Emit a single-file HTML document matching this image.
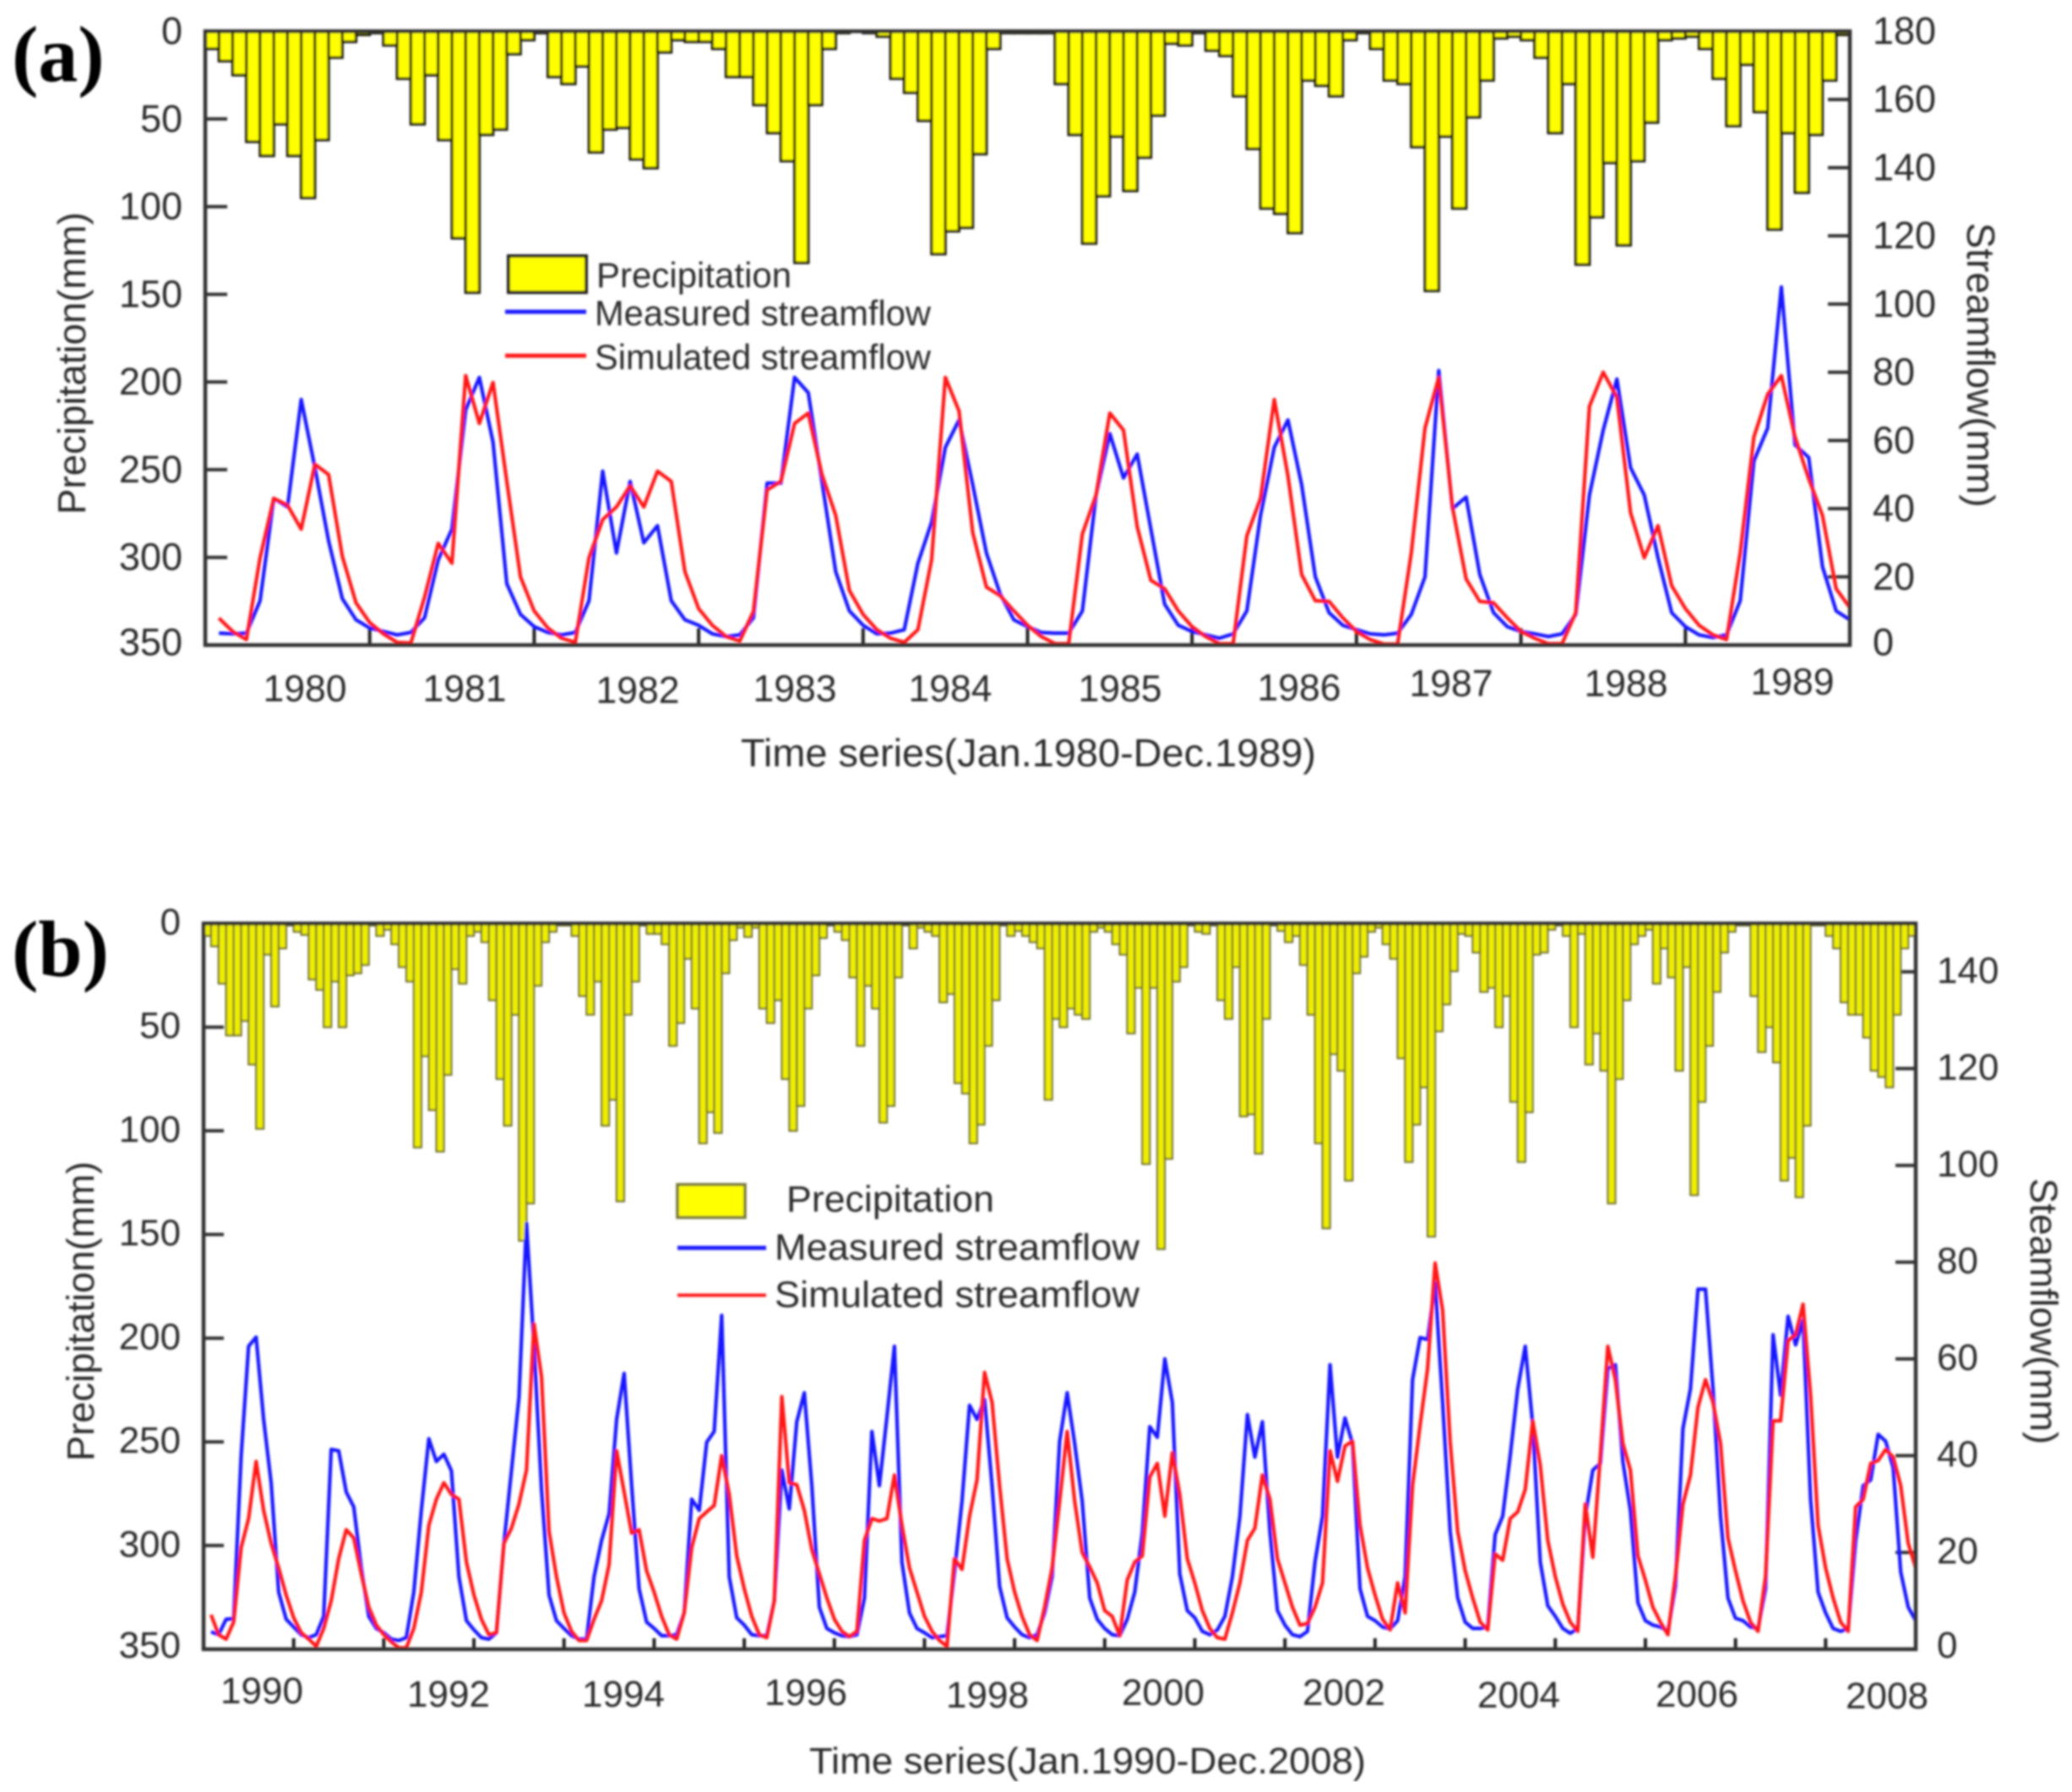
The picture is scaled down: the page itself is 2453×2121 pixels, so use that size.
<!DOCTYPE html>
<html lang="en">
<head>
<meta charset="utf-8">
<title>Precipitation and streamflow time series</title>
<style>
html,body{margin:0;padding:0;background:#fff;}
svg{display:block;}
text{font-family:"Liberation Sans",sans-serif;fill:#2a2a2a;}
.panel-label{font-family:"Liberation Serif",serif;font-weight:bold;font-size:94px;fill:#000;}
</style>
</head>
<body>
<svg id="chart" xmlns="http://www.w3.org/2000/svg" width="2453" height="2121" viewBox="0 0 2453 2121">
<defs><filter id="soft" x="0" y="0" width="100%" height="100%" filterUnits="objectBoundingBox"><feGaussianBlur stdDeviation="1.2"/></filter></defs>
<rect x="0" y="0" width="2453" height="2121" fill="#fff"/>
<g id="root" filter="url(#soft)">
<g id="panelA"></g>
<g id="panelB"></g>

<text class="panel-label" x="14" y="96">(a)</text>
<text class="panel-label" x="14" y="1155">(b)</text>

<g font-size="44.5" text-anchor="middle">
<text x="361" y="830" text-anchor="middle" font-size="44.5">1980</text>
<text x="550" y="830" text-anchor="middle" font-size="44.5">1981</text>
<text x="755" y="832" text-anchor="middle" font-size="44.5">1982</text>
<text x="941" y="830" text-anchor="middle" font-size="44.5">1983</text>
<text x="1125" y="830" text-anchor="middle" font-size="44.5">1984</text>
<text x="1326" y="830" text-anchor="middle" font-size="44.5">1985</text>
<text x="1538" y="829" text-anchor="middle" font-size="44.5">1986</text>
<text x="1718" y="824" text-anchor="middle" font-size="44.5">1987</text>
<text x="1925" y="824" text-anchor="middle" font-size="44.5">1988</text>
<text x="2122" y="822" text-anchor="middle" font-size="44.5">1989</text>
</g>
<text x="877" y="907" font-size="46" textLength="681" lengthAdjust="spacingAndGlyphs">Time series(Jan.1980-Dec.1989)</text>
<text transform="translate(101 430) rotate(-90)" text-anchor="middle" font-size="46" textLength="358" lengthAdjust="spacingAndGlyphs">Precipitation(mm)</text>
<text transform="translate(2329 432) rotate(90)" text-anchor="middle" font-size="46" textLength="337" lengthAdjust="spacingAndGlyphs">Streamflow(mm)</text>

<g>
<rect x="602" y="303" width="92" height="43" fill="#ffff00" stroke="#222" stroke-width="4"/>
<text x="706" y="340" font-size="42">Precipitation</text>
<line x1="598" y1="369" x2="694" y2="369" stroke="#1a1aff" stroke-width="5"/>
<text x="704" y="385" font-size="42" textLength="398" lengthAdjust="spacingAndGlyphs">Measured streamflow</text>
<line x1="598" y1="421" x2="694" y2="421" stroke="#ff1f1f" stroke-width="5"/>
<text x="704" y="437" font-size="42" textLength="398" lengthAdjust="spacingAndGlyphs">Simulated streamflow</text>
</g>

<g>
<text x="310" y="2016" text-anchor="middle" font-size="44">1990</text>
<text x="531" y="2020" text-anchor="middle" font-size="44">1992</text>
<text x="738" y="2020" text-anchor="middle" font-size="44">1994</text>
<text x="954" y="2018" text-anchor="middle" font-size="44">1996</text>
<text x="1169" y="2021" text-anchor="middle" font-size="44">1998</text>
<text x="1377" y="2018" text-anchor="middle" font-size="44">2000</text>
<text x="1591" y="2018" text-anchor="middle" font-size="44">2002</text>
<text x="1798" y="2021" text-anchor="middle" font-size="44">2004</text>
<text x="2009" y="2020" text-anchor="middle" font-size="44">2006</text>
<text x="2234" y="2022" text-anchor="middle" font-size="44">2008</text>
</g>
<text x="958" y="2099" font-size="44" textLength="659" lengthAdjust="spacingAndGlyphs">Time series(Jan.1990-Dec.2008)</text>
<text transform="translate(111 1552) rotate(-90)" text-anchor="middle" font-size="45" textLength="355" lengthAdjust="spacingAndGlyphs">Precipitation(mm)</text>
<text transform="translate(2404 1552) rotate(90)" text-anchor="middle" font-size="45" textLength="315" lengthAdjust="spacingAndGlyphs">Steamflow(mm)</text>

<g>
<rect x="802" y="1402" width="80" height="39" fill="#ffff00" stroke="#77773a" stroke-width="3.5"/>
<text x="931" y="1434" font-size="44" textLength="246" lengthAdjust="spacingAndGlyphs">Precipitation</text>
<line x1="802" y1="1477" x2="907" y2="1477" stroke="#1a1aff" stroke-width="5"/>
<text x="917" y="1491" font-size="44" textLength="432" lengthAdjust="spacingAndGlyphs">Measured streamflow</text>
<line x1="802" y1="1533" x2="907" y2="1533" stroke="#ff1f1f" stroke-width="4"/>
<text x="917" y="1547" font-size="44" textLength="432" lengthAdjust="spacingAndGlyphs">Simulated streamflow</text>
</g>
</g>
</svg>
<script>
// Panel (a): Jan 1980 - Dec 1989
const yearsA = [1980,1981,1982,1983,1984,1985,1986,1987,1988,1989];
const precipA = [
10,17,25,63,71,53,71,95,62,15,6,2,
1,8,27,53,25,62,118,149,59,56,13,5,
1,26,30,20,69,56,55,73,78,12,5,6,
6,10,26,26,42,58,74,132,42,10,1,0,
1,3,27,35,51,127,114,112,70,10,1,1,
1,1,30,59,121,94,60,91,72,48,7,8,
1,11,14,37,67,101,104,115,28,31,37,5,
1,10,28,30,66,148,60,101,49,28,4,3,
5,15,58,30,133,106,75,122,74,52,5,4,
3,10,27,54,19,46,113,58,92,59,28,2];
const measuredA = [
3.5,3.3,3.5,13,43,40.5,72,52,30.6,13.6,7.4,5,
4,3,3.7,8,25,34,69,78.5,59.5,18,9,5.4,
3.7,3,3.7,13,51,27,48,30,35,13,7.4,5.8,
3.3,2.5,3,8,47.5,47.5,78.5,74,48,21.5,10,5.8,
3.3,3.5,4.5,24,36,58,66,47,27,15,7.4,5.4,
3.7,3.5,3.5,10,44,62,49,56,34,12,5.8,4,
3,2,3.3,10,38,58,66,47,20,9.5,5.8,4.5,
3.3,3,3.5,9,20,80.5,40,43.4,20.7,9.5,5.4,4,
3.3,2.5,3.3,9,44,63,78,52,44,25.6,9.5,5.4,
3,2.2,3,13,54,63.6,105,58.7,55,23,10,7.4];
const simulatedA = [
7.9,4,1.6,25.6,43,41,34,53,50,26,12.4,6.6,
3.3,0.8,0.6,14,29.8,24,79,65,77,48,20,10,
5,2,0.8,25.6,36.8,40.5,46.7,40.5,51,48,21.5,10.7,
5.8,2.5,1.2,9.9,45.5,48,65,68,50,38,16,9,
4.5,2,0.8,4.5,25,78.5,68.6,33,17,14.5,10,5.8,
2.5,0.4,0.4,32.6,44,68,63,34.7,19,16.5,10,5.4,
2.5,0.4,0.4,32,43,72,49.6,20.7,13,12.8,8,4,
1.6,0.3,0.3,27,63.6,78.5,40.5,19.4,12.8,12.4,8,4,
2,0.4,0.4,9.5,70,80,72.7,38.8,25.6,35,17.4,10.7,
5.8,3,1.6,27,61,73.5,79,61,48.8,38,16.5,11];

// Panel (b): Jan 1990 - Dec 2008
const yearsB = [1990,1991,1992,1993,1994,1995,1996,1997,1998,1999,2000,2001,2002,2003,2004,2005,2006,2007,2008];
const precipB = [
6,11,29,54,54,47,68,99,15,40,12,1,
4,5.5,27,32,50,28,50,25,24,20,1,6,
3,10,21,28,108,64,90,110,73,22,29,6,
4,9,37,75,97.5,44,153,135,30,9,4,1,
1,6,35,44,28,97.5,85,134,44,28,1,5,
5,10,59,48,17,41,106,91,101,24,8,2,
6.5,2,41,48,37,75,100,88,41,25,7,1,
4,8,26,59,30,41,96,88,26,1,12,2,
4,6,38,34,77,82,106,97,59,37,1,6,
3.6,6,9,12,85,46,50,41,44,46,4,2,
4,10,15,53,31,116,31,157,113.5,28,21,1,
4,5,1,37,46,21,93,92,111,46,1,3.6,
9,6,20,44,106,147,63,71,124,24,16,4,
2,10,17,65,115,97,79,151,52,39,23,5,
6,14,33,31,50,35,86,115,91,15,14,3,
1,6,50,5,68,53,71,135,75,37,10,6,
3,29,12,26,71,21,131,86,59,33,14,4,
1,1,35,62,50,67,124,113,132,97.5,1,1,
6,12,38,44,44,55,71,74,79,44,12,6];
const measuredB = [
3.6,3,6.2,6.3,40,62.6,64.5,47.5,34.4,11.8,6.2,4.6,
3,2.4,3,6.8,41.3,41,32.5,29.4,16.8,6.8,4.3,3.4,
2.1,1.8,2.4,11.8,28.7,43.5,38.8,40.3,36.9,15,5.9,4,
2.4,2.1,3.4,21.9,36.9,52,88,62.6,33,11.2,5.9,4.3,
2.8,2.1,2.1,15,22.5,28,47.5,57,33.8,12.5,5.6,4.3,
2.8,2.8,3,7.5,31,28.7,42.8,45,69,15,6.5,5,
3,2.8,2.8,10,37,29,47,53,33.8,8.7,4.3,3.4,
2.8,2.6,3,10.6,45,33.8,48,62.6,18,7.5,4.3,3.4,
2.4,2.6,2.8,16,30.6,50.4,47.5,51.6,33.8,13,6.5,4.6,
3,2.4,3,7.5,15,43,53,42.5,30.6,10.6,6.2,4.3,
3,2.8,6.2,11.8,24,46,43.8,60,51,15.6,8,6.5,
3.7,3,4,6.8,15,27.5,48.5,39.7,47,24.4,8,5,
3,2.6,3.7,18,27.5,58.8,39.7,47.8,42.5,12.5,6.8,5.9,
4.6,4.2,5.9,15,55.7,64.4,64,75.7,51,24.4,10.6,5.6,
4.3,4.3,4.6,23.7,27.5,40,53.8,62.6,46.3,18,9,6.8,
4.3,3.3,4.3,27.5,37,38.4,58,58.8,38.8,28.7,9.6,5.9,
5,4.6,3.7,13,45.6,53.8,74.4,74.4,53.8,27.5,10.6,6.4,
5.9,4.6,4.3,12.5,65,52.5,68.8,62.9,68,31,11.8,7.5,
4.3,3.7,4.3,22.5,33.8,35,44.4,43,37.5,16,8.7,5.9];
const simulatedB = [
7.1,3,2.1,5.6,21,27,38.8,28.7,21.9,16.8,11.2,6.5,
3.4,2.1,0.6,4.3,10,18.7,24.7,23,15.6,8.7,5,3,
1.5,0.3,0.3,4.3,11.8,25.6,31,34.4,32,31,18,11.2,
6.2,3,3.4,21.9,25,30,37,67.2,56.3,24.4,15,7.5,
3.7,1.8,1.8,6.2,10,17.5,41,32.5,24,24.7,16.2,11.8,
6.8,3,2.1,7.5,21,27,28.4,29.7,40,32,19.3,12.5,
6.8,3,2.4,10,52.2,34.4,34,28.7,20.6,15.6,10.6,6.2,
3.7,2.6,3.7,22.5,27,26.5,27,36,25.6,16.8,11.8,6.8,
3.7,1.8,0.6,18.7,16.5,27.5,35,57.2,51,33.8,18.7,11.8,
6.8,3,1.8,8.7,16.8,30.6,45,30.6,20,17,13.7,8,
6.8,2.8,14.3,18,19.3,35.6,38.4,27.5,40.6,32,18.7,13.7,
8,4.3,2.4,2.1,7.5,13.7,22.5,25,36,31,18.7,13.7,
8.7,5,5.3,8.7,13.7,41,34.7,42,43,25.6,16.8,11.2,
6.2,4,13.7,7.5,33.8,46.3,58,79.8,70,43,24.4,16.2,
10.6,5.6,4,19.7,18.4,27,28.4,33,47.2,38,22.5,15,
9.3,5.6,3.7,30,19,40,62.6,55.7,42.5,37,19.3,14.3,
8.7,5.6,3,15,30,36,50,55.7,51,42.5,23,16.2,
10,5.6,3.7,15,47.2,47.2,63.8,65,71.3,52.5,25.6,16.8,
10.6,5.6,3.7,29.4,31,38.4,39,41.3,39.7,33.8,21.9,16.8];

// Axis tick values
const precipTicks = [0,50,100,150,200,250,300,350];
const flowTicksA = [0,20,40,60,80,100,120,140,160,180];
const flowTicksB = [0,20,40,60,80,100,120,140];

const NS = 'http://www.w3.org/2000/svg';
function mk(parent, tag, attrs) {
  const el = document.createElementNS(NS, tag);
  for (const k in attrs) el.setAttribute(k, attrs[k]);
  parent.appendChild(el);
  return el;
}

function drawPanel(cfg) {
  const g = document.getElementById(cfg.id);
  const w = (cfg.right - cfg.left) / cfg.precip.length;
  const xEdge = i => cfg.left + i * w;
  const xPoint = i => cfg.left + (i + 1) * w;
  const yPrecip = v => cfg.top + v * (cfg.bottom - cfg.top) / cfg.precipMax;
  const yFlow = v => cfg.bottom - v * (cfg.bottom - cfg.top) / cfg.flowMax;
  const lift = y => (Math.abs(y - cfg.bottom) < 1 ? 3 : 0);

  // left-axis ticks and labels
  precipTicks.forEach(v => {
    const t = mk(g, 'line', {x1: cfg.left, x2: cfg.left + cfg.tickLen, y1: yPrecip(v), y2: yPrecip(v), stroke: '#333', 'stroke-width': 4});
    
    
    const l = mk(g, 'text', {x: cfg.leftLabelX, y: yPrecip(v) + cfg.labelDy - lift(yPrecip(v)), 'text-anchor': 'end', 'font-size': cfg.font});
    
    
    l.textContent = v;
  });
  // right-axis ticks and labels
  cfg.flowTicks.forEach(v => {
    const t = mk(g, 'line', {x1: cfg.right - cfg.tickLen, x2: cfg.right, y1: yFlow(v), y2: yFlow(v), stroke: '#333', 'stroke-width': 4});
    
    
    const l = mk(g, 'text', {x: cfg.rightLabelX, y: yFlow(v) + cfg.labelDy - lift(yFlow(v)), 'font-size': cfg.font});
    
    
    l.textContent = v;
  });
  // year ticks
  cfg.years.forEach((yr, k) => {
    if (k === 0) return;
    const x = xEdge(k * 12);
    const t = mk(g, 'line', {x1: x, x2: x, y1: cfg.bottom - cfg.xTickLen, y2: cfg.bottom, stroke: '#222', 'stroke-width': 4});
    
    
  });
  // precipitation bars
  cfg.precip.forEach((v, i) => {
    const b = mk(g, 'rect', {x: xEdge(i), y: cfg.top, width: w, height: yPrecip(v) - cfg.top, fill: cfg.barFill, stroke: cfg.barStroke, 'stroke-width': cfg.barStrokeWidth});
    
    
  });
  // streamflow lines
  const path = arr => arr.map((v, i) => (i ? 'L' : 'M') + xPoint(i).toFixed(1) + ' ' + yFlow(v).toFixed(1)).join(' ');
  const mLine = mk(g, 'path', {d: path(cfg.measured), fill: 'none', stroke: '#1414ff', 'stroke-width': 4.2, 'stroke-linejoin': 'round'});
  
  
  const sLine = mk(g, 'path', {d: path(cfg.simulated), fill: 'none', stroke: '#ff1414', 'stroke-width': 4.2, 'stroke-linejoin': 'round'});
  
  
  // frame
  const f = mk(g, 'rect', {x: cfg.left, y: cfg.top, width: cfg.right - cfg.left, height: cfg.bottom - cfg.top, fill: 'none', stroke: '#333', 'stroke-width': 4.5});
  
  
}

drawPanel({id: 'panelA', left: 243, right: 2190, top: 37, bottom: 763.5, years: yearsA,
  precip: precipA, measured: measuredA, simulated: simulatedA, precipMax: 350, flowMax: 180,
  flowTicks: flowTicksA, tickLen: 26, xTickLen: 20, leftLabelX: 216, rightLabelX: 2217, labelDy: 15, font: 45,
  barFill: '#ffff00', barStroke: '#1f1f0c', barStrokeWidth: 3.2});
drawPanel({id: 'panelB', left: 241, right: 2268, top: 1093, bottom: 1952, years: yearsB,
  precip: precipB, measured: measuredB, simulated: simulatedB, precipMax: 350, flowMax: 150,
  flowTicks: flowTicksB, tickLen: 24, xTickLen: 13, leftLabelX: 214, rightLabelX: 2293, labelDy: 13, font: 44,
  barFill: '#eeee00', barStroke: '#6f6f2c', barStrokeWidth: 2.2});
</script>
</body>
</html>
